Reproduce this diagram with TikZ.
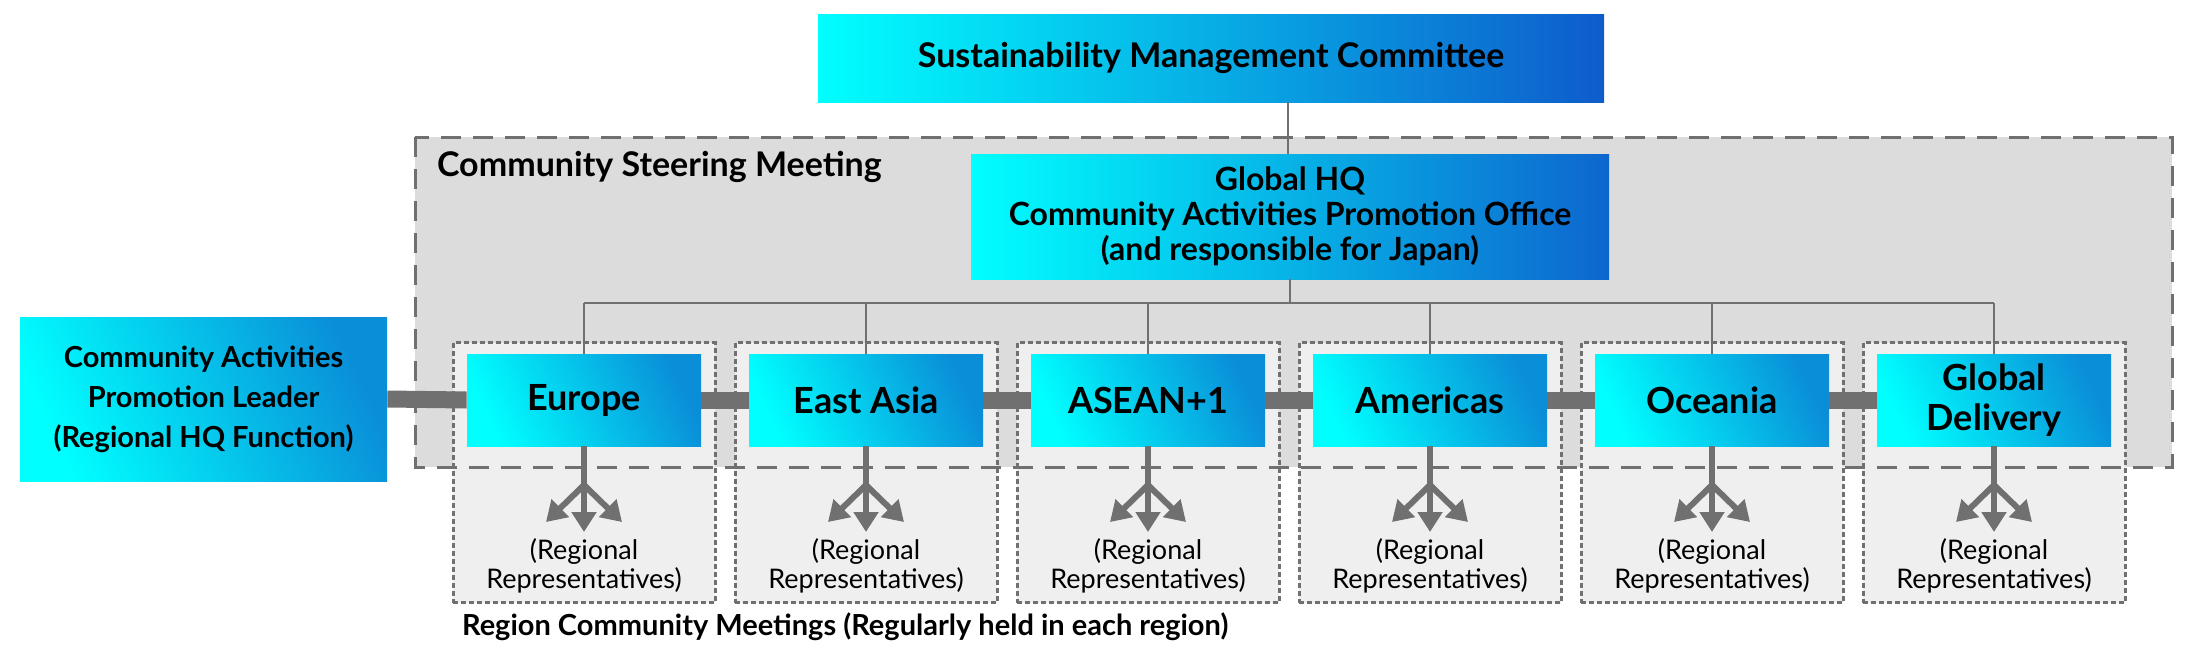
\documentclass[tikz,border=0pt]{standalone}
\usepackage{fontspec}
\setmainfont{Lato}
\usetikzlibrary{arrows.meta}
\definecolor{lg}{HTML}{707070}
\definecolor{bgA}{HTML}{DCDCDC}
\definecolor{bgB}{HTML}{EFEFEF}
\definecolor{cy}{HTML}{00FFFF}
\definecolor{bl}{HTML}{0E5CCC}
\definecolor{bl2}{HTML}{0A8ED8}
\begin{document}
\begin{tikzpicture}[x=0.5pt,y=-0.5pt,
  grad/.style={shading=axis,left color=cy,middle color=cy!60!bl2,right color=bl2,shading angle=115,inner sep=0pt,align=center,font=\bfseries},
  rbox/.style={grad,minimum width=117pt,minimum height=46pt,font=\bfseries\fontsize{18}{20}\selectfont},
  dbox/.style={draw=lg,fill=bgB,line width=1.5pt,dash pattern=on 2.5pt off 1.5pt,minimum width=131pt,minimum height=130pt,inner sep=0pt},
  thin/.style={draw=lg,line width=1pt},
  bar/.style={draw=lg,line width=8.5pt},
  arr/.style={draw=lg,line width=3pt,-{Triangle[length=10pt,width=12pt]}},
  rep/.style={font=\fontsize{13.5}{14.5}\selectfont,align=center}]
\useasboundingbox (0,0) rectangle (2200,654);
\fill[bgA] (415,137) rectangle (2172,467);
\node[anchor=north west,font=\bfseries\fontsize{17}{19}\selectfont] (csm) at (430,144) {Community Steering Meeting};
\foreach \i/\n in {0/a,1/b,2/c,3/d,4/e,5/f}{
  \node[dbox] (d\n) at (584+282*\i,472.5) {};
}
\draw[lg,line width=1.5pt,dash pattern=on 10pt off 6pt] (415,137) rectangle (2172,467);
\node[grad,minimum width=393pt,minimum height=44pt,font=\bfseries\fontsize{17}{19}\selectfont,shading angle=100,middle color=cy!70!bl2,right color=bl] (smc) at (1211,58) {Sustainability Management Committee};
\node[grad,minimum width=319pt,minimum height=62.5pt,font=\bfseries\fontsize{16}{17.5}\selectfont,right color=bl!80!bl2] (hq) at (1290,216.5) {Global HQ\\Community Activities Promotion Office\\(and responsible for Japan)};
\draw[thin] (smc.south -| 1288,0) -- (hq.north -| 1288,0);
\node[grad,minimum width=183.5pt,minimum height=82pt,font=\bfseries\fontsize{14.5}{20}\selectfont] (lead) at (203.5,399) {Community Activities\\Promotion Leader\\(Regional HQ Function)};
\foreach \i/\n/\t in {0/a/Europe,1/b/East Asia,2/c/ASEAN+1,3/d/Americas,4/e/Oceania,5/f/{Global\\Delivery}}{
  \node[rbox] (r\n) at (584+282*\i,400) {\t};
  \coordinate (k\n) at (584+282*\i,485);
  \coordinate (m\n) at (584+282*\i,532);
  \coordinate (l\n) at (546+282*\i,522);
  \coordinate (q\n) at (622+282*\i,522);
  \coordinate (t\n) at (584+282*\i,303);
  \draw[lg,line width=3pt] (r\n.south) -- (k\n);
  \draw[arr] (k\n) -- (m\n);
  \draw[arr] (k\n) -- (l\n);
  \draw[arr] (k\n) -- (q\n);
  \node[rep] (p\n) at (584+282*\i,566) {(Regional\\Representatives)};
  \draw[thin] (t\n) -- (r\n.north);
}
\draw[thin] (hq.south -| 1290,0) -- (1290,303);
\draw[thin] (ta) -- (tf);
\draw[bar] (lead.east) -- (ra.west);
\draw[bar] (ra.east) -- (rb.west);
\draw[bar] (rb.east) -- (rc.west);
\draw[bar] (rc.east) -- (rd.west);
\draw[bar] (rd.east) -- (re.west);
\draw[bar] (re.east) -- (rf.west);
\node[anchor=west,font=\bfseries\fontsize{14.5}{16}\selectfont] (rcm) at (455,627) {Region Community Meetings (Regularly held in each region)};
\end{tikzpicture}
\end{document}
